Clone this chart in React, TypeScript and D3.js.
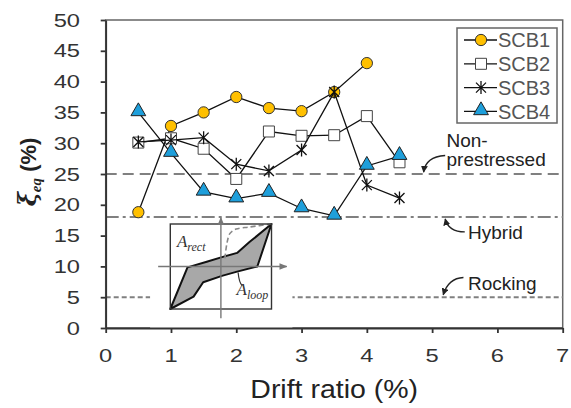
import { useEffect, useRef } from 'react'
import * as d3 from 'd3'

const W = 571
const H = 408

// drift ratio steps (%) and equivalent damping per specimen (%)
const drift = [0.5, 1, 1.5, 2, 2.5, 3, 3.5, 4, 4.5]
const scb1 = [18.8, 32.8, 35.0, 37.5, 35.7, 35.2, 38.3, 43.0]
const scb2 = [30.1, 30.8, 29.1, 24.2, 31.9, 31.2, 31.3, 34.4, 26.9]
const scb3 = [30.2, 30.5, 30.9, 26.6, 25.5, 28.9, 38.3, 23.2, 21.1]
const scb4 = [35.0, 28.4, 22.1, 21.0, 21.9, 19.4, 18.2, 26.3, 27.9]

const seriesNames = ['SCB1', 'SCB2', 'SCB3', 'SCB4']
const seriesValues = [scb1, scb2, scb3, scb4]

// design damping levels
const refNames = ['Non-prestressed', 'Hybrid', 'Rocking']
const refValues = [25, 18, 5]

const xTicks = [0, 1, 2, 3, 4, 5, 6, 7]
const yTicks = [0, 5, 10, 15, 20, 25, 30, 35, 40, 45, 50]

// hysteresis sketch, normalised to [-1, 1]
const loopUpper: [number, number][] = [[-1, -1], [-0.66, -0.02], [-0.28, 0.11], [0.02, 0.22], [0.32, 0.32], [0.57, 0.58], [1, 1]]
const loopLower: [number, number][] = [[1, 1], [0.72, 0], [0.32, -0.12], [0.02, -0.22], [-0.35, -0.37], [-0.54, -0.71], [-1, -1]]
const backbone: [number, number][] = [[0.08, 0.19], [0.12, 0.55], [0.18, 0.78], [0.3, 0.88], [0.57, 0.93], [1, 1]]

const FONT = 'Liberation Sans, Arial, sans-serif'
const STRETCH = 1.28

export default function App() {
  const svgRef = useRef<SVGSVGElement>(null)

  useEffect(() => {
    if (!svgRef.current) return
    const svg = d3.select(svgRef.current)
    svg.selectAll('*').remove()

    const x = d3.scaleLinear().domain([0, 7]).range([105.7, 562.7])
    const y = d3.scaleLinear().domain([0, 50]).range([328, 20])
    const [x0, x1] = x.range()
    const [y0, y1] = y.range()

    const defs = svg.append('defs')
    defs.append('marker')
      .attr('id', 'head')
      .attr('viewBox', '0 0 10 10')
      .attr('refX', 9)
      .attr('refY', 5)
      .attr('markerWidth', 7)
      .attr('markerHeight', 7)
      .attr('markerUnits', 'userSpaceOnUse')
      .attr('orient', 'auto')
      .append('path')
      .attr('d', 'M0,0 L10,5 L0,10 Z')
      .attr('fill', '#222')
    defs.append('marker')
      .attr('id', 'axhead')
      .attr('viewBox', '0 0 10 10')
      .attr('refX', 9)
      .attr('refY', 5)
      .attr('markerWidth', 8)
      .attr('markerHeight', 8)
      .attr('markerUnits', 'userSpaceOnUse')
      .attr('orient', 'auto')
      .append('path')
      .attr('d', 'M0,1 L10,5 L0,9 Z')
      .attr('fill', '#777')

    // plot frame
    svg.append('rect')
      .attr('x', x0)
      .attr('y', y1)
      .attr('width', x1 - x0)
      .attr('height', y0 - y1)
      .attr('fill', 'none')
      .attr('stroke', '#666')
      .attr('stroke-width', 1.5)

    // reference damping lines
    const refDash = ['11,6', '13,4,3,4', '5,3']
    refValues.forEach((v, i) => {
      svg.append('line')
        .attr('x1', x0)
        .attr('x2', x1)
        .attr('y1', y(v))
        .attr('y2', y(v))
        .attr('stroke', '#808080')
        .attr('stroke-width', 2)
        .attr('stroke-dasharray', refDash[i])
    })

    // inset: hysteresis loop sketch on white backing
    svg.append('rect')
      .attr('x', x(0.68))
      .attr('y', y(17.2))
      .attr('width', x(2.86) - x(0.68))
      .attr('height', y(-1.5) - y(17.2))
      .attr('fill', '#fff')

    const ix = d3.scaleLinear().domain([-1, 1]).range([170.3, 271.5])
    const iy = d3.scaleLinear().domain([-1, 1]).range([309, 224])
    const inset = svg.append('g')
    const sketch = d3.line<[number, number]>().x((d) => ix(d[0])).y((d) => iy(d[1]))
    const smooth = d3.line<[number, number]>().x((d) => ix(d[0])).y((d) => iy(d[1])).curve(d3.curveCatmullRom)

    inset.append('path')
      .attr('d', sketch([...loopUpper, ...loopLower.slice(1)]) + 'Z')
      .attr('fill', '#a8a8a8')
      .attr('stroke', '#111')
      .attr('stroke-width', 2)
      .attr('stroke-linejoin', 'round')
    inset.append('path')
      .attr('d', smooth(backbone))
      .attr('fill', 'none')
      .attr('stroke', '#888')
      .attr('stroke-width', 1.6)
      .attr('stroke-dasharray', '5,3')
    inset.append('rect')
      .attr('x', ix(-1))
      .attr('y', iy(1))
      .attr('width', ix(1) - ix(-1))
      .attr('height', iy(-1) - iy(1))
      .attr('fill', 'none')
      .attr('stroke', '#333')
      .attr('stroke-width', 1.4)
    inset.append('line')
      .attr('x1', ix(-1.24)).attr('x2', ix(1.3))
      .attr('y1', iy(0)).attr('y2', iy(0))
      .attr('stroke', '#777').attr('stroke-width', 1.4)
      .attr('marker-end', 'url(#axhead)')
    inset.append('line')
      .attr('x1', ix(0)).attr('x2', ix(0))
      .attr('y1', iy(-1.22)).attr('y2', iy(1.15))
      .attr('stroke', '#777').attr('stroke-width', 1.4)
      .attr('marker-end', 'url(#axhead)')
    inset.append('path')
      .attr('d', `M${ix(0.34)},${iy(-0.14)} Q${ix(0.36)},${iy(-0.38)} ${ix(0.42)},${iy(-0.45)}`)
      .attr('fill', 'none')
      .attr('stroke', '#333')
      .attr('stroke-width', 1.2)

    const areaLabel = (tx: number, ty: number, sub: string) => {
      const t = inset.append('text')
        .attr('x', tx)
        .attr('y', ty)
        .attr('font-family', 'Liberation Serif, Times New Roman, serif')
        .attr('font-style', 'italic')
        .attr('font-size', 17)
        .attr('fill', '#333')
      t.append('tspan').text('A')
      t.append('tspan').attr('dy', 4).attr('font-size', 12).text(sub)
    }
    areaLabel(ix(-0.87), iy(0.47), 'rect')
    areaLabel(ix(0.31), iy(-0.67), 'loop')

    // axes
    svg.append('g')
      .attr('transform', `translate(${x0},0)`)
      .call(d3.axisLeft(y).tickValues(yTicks).tickSize(5).tickSizeOuter(0).tickFormat(() => ''))
      .call((g) => g.selectAll('path, line').attr('stroke', '#333').attr('stroke-width', 1.8))
    svg.append('g')
      .attr('transform', `translate(0,${y0})`)
      .call(d3.axisBottom(x).tickValues(xTicks).tickSize(5).tickSizeOuter(0).tickFormat(() => ''))
      .call((g) => g.selectAll('path, line').attr('stroke', '#333').attr('stroke-width', 1.8))

    svg.append('g')
      .selectAll('text')
      .data(yTicks)
      .join('text')
      .attr('transform', (d) => `translate(80,${y(d)}) scale(${STRETCH},1)`)
      .attr('dy', '0.36em')
      .attr('text-anchor', 'end')
      .attr('font-family', FONT)
      .attr('font-size', 18.5)
      .attr('fill', '#333')
      .text((d) => d)
    svg.append('g')
      .selectAll('text')
      .data(xTicks)
      .join('text')
      .attr('transform', (d) => `translate(${x(d)},362) scale(${STRETCH},1)`)
      .attr('text-anchor', 'middle')
      .attr('font-family', FONT)
      .attr('font-size', 18.5)
      .attr('fill', '#333')
      .text((d) => d)

    svg.append('text')
      .attr('transform', `translate(${x(3.5)},398) scale(1.14,1)`)
      .attr('text-anchor', 'middle')
      .attr('font-family', FONT)
      .attr('font-size', 25)
      .attr('fill', '#222')
      .text('Drift ratio (%)')

    const yl = svg.append('text')
      .attr('transform', 'translate(36,172) rotate(-90)')
      .attr('text-anchor', 'middle')
      .attr('font-family', FONT)
      .attr('font-weight', 'bold')
      .attr('font-size', 22)
      .attr('fill', '#222')
    yl.append('tspan').attr('font-family', 'DejaVu Serif, serif').attr('font-style', 'italic').attr('font-size', 24).text('ξ')
    yl.append('tspan').attr('dy', 5).attr('font-size', 15).attr('font-style', 'italic').attr('font-family', 'Liberation Serif, serif').text('eq')
    yl.append('tspan').attr('dy', -5).text(' (%)')

    // series
    const markerPath = (i: number) => {
      if (i === 0) return d3.symbol(d3.symbolCircle, 100)()
      if (i === 1) return d3.symbol(d3.symbolSquare, 121)()
      if (i === 2) return 'M0,-6.5L0,6.5M-5,-5L5,5M-5,5L5,-5'
      return d3.symbol(d3.symbolTriangle, 95)()
    }
    const markerFill = ['#FFC000', '#fff', 'none', '#1E9FDB']
    const markerStroke = ['#333', '#444', '#111', '#222']
    const markerDy = [0, 0, 0, -1]

    const line = d3.line<number>().x((_, i) => x(drift[i])).y((d) => y(d))

    seriesValues.forEach((vals, s) => {
      const g = svg.append('g')
      g.append('path')
        .attr('d', line(vals))
        .attr('fill', 'none')
        .attr('stroke', '#111')
        .attr('stroke-width', 1.3)
      g.selectAll('path.pt')
        .data(vals)
        .join('path')
        .attr('class', 'pt')
        .attr('transform', (d, i) => `translate(${x(drift[i])},${y(d) + markerDy[s]})`)
        .attr('d', markerPath(s))
        .attr('fill', markerFill[s])
        .attr('stroke', markerStroke[s])
        .attr('stroke-width', s === 2 ? 1.3 : 1)
    })

    // legend
    const lg = svg.append('g')
    lg.append('rect')
      .attr('x', 457)
      .attr('y', 28)
      .attr('width', 100)
      .attr('height', 95)
      .attr('fill', '#fff')
      .attr('stroke', '#666')
      .attr('stroke-width', 1.5)
    seriesNames.forEach((name, s) => {
      const ry = 40 + s * 23.8
      lg.append('line')
        .attr('x1', 464).attr('x2', 497)
        .attr('y1', ry).attr('y2', ry)
        .attr('stroke', '#111').attr('stroke-width', 1.3)
      lg.append('path')
        .attr('transform', `translate(481,${ry + markerDy[s]})`)
        .attr('d', markerPath(s))
        .attr('fill', markerFill[s])
        .attr('stroke', markerStroke[s])
        .attr('stroke-width', s === 2 ? 1.3 : 1)
      lg.append('text')
        .attr('x', 498)
        .attr('y', ry)
        .attr('dy', '0.36em')
        .attr('font-family', FONT)
        .attr('font-size', 20)
        .attr('fill', '#555')
        .text(name)
    })

    // reference line callouts
    const note = svg.append('g')
      .attr('font-family', FONT)
      .attr('font-size', 19)
      .attr('fill', '#222')
    note.append('text').attr('x', x(5.22)).attr('y', 147).text(refNames[0].split('-')[0] + '-')
    note.append('text').attr('x', x(5.22)).attr('y', 166).text(refNames[0].split('-')[1])
    note.append('text').attr('x', x(5.55)).attr('y', 239).text(refNames[1])
    note.append('text').attr('x', x(5.55)).attr('y', 290).text(refNames[2])

    const callouts = [
      { from: [x(5.2), y(28)], ctrl: [x(4.9), y(27.8)], to: [x(4.87), y(25.3)] },
      { from: [x(5.5), y(15.6)], ctrl: [x(5.25), y(15.6)], to: [x(5.2), y(17.7)] },
      { from: [x(5.48), y(8.2)], ctrl: [x(5.25), y(8.1)], to: [x(5.17), y(5.4)] },
    ]
    callouts.forEach((c) => {
      svg.append('path')
        .attr('d', `M${c.from[0]},${c.from[1]} Q${c.ctrl[0]},${c.ctrl[1]} ${c.to[0]},${c.to[1]}`)
        .attr('fill', 'none')
        .attr('stroke', '#222')
        .attr('stroke-width', 1.3)
        .attr('marker-end', 'url(#head)')
    })
  }, [])

  return (
    <svg
      ref={svgRef}
      width={W}
      height={H}
      style={{ position: 'absolute', left: 0, top: 0, background: '#fff' }}
    />
  )
}
